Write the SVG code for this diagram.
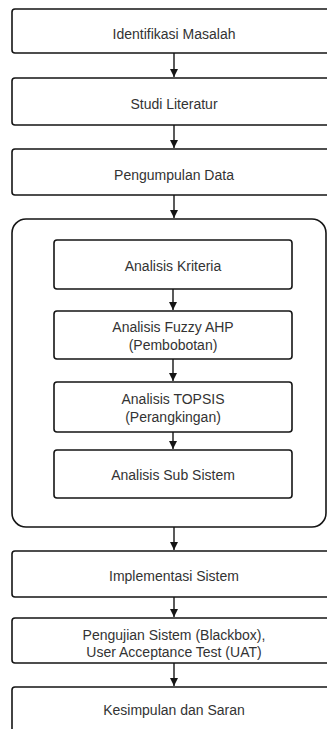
<svg xmlns="http://www.w3.org/2000/svg" width="327" height="729" viewBox="0 0 327 729">
<defs>
<style>
.box{fill:#fff;stroke:#151515;stroke-width:1.6}
.t{font-family:"Liberation Sans",Arial,sans-serif;font-size:14px;fill:#333;text-anchor:middle}
.c{stroke:#151515;stroke-width:1.4;fill:none}
</style>
<marker id="ah" viewBox="0 0 10 10" refX="10" refY="5" markerWidth="8" markerHeight="8" markerUnits="userSpaceOnUse" orient="auto"><path d="M0,0 L10,5 L0,10 z" fill="#151515"/></marker>
</defs>
<rect width="327" height="729" fill="#fff"/>
<g id="n1"><rect class="box" x="12" y="9" width="330" height="44" rx="3"/><text class="t" x="174" y="39">Identifikasi Masalah</text></g>
<g id="n2"><rect class="box" x="12" y="78" width="330" height="47" rx="3"/><text class="t" x="174" y="108.5">Studi Literatur</text></g>
<g id="n3"><rect class="box" x="12" y="149" width="330" height="46" rx="3"/><text class="t" x="174" y="180">Pengumpulan Data</text></g>
<g id="grp"><rect class="box" x="12" y="219" width="314" height="308" rx="14"/></g>
<g id="n4"><rect class="box" x="54" y="240" width="238" height="49" rx="3"/><text class="t" x="173" y="271">Analisis Kriteria</text></g>
<g id="n5"><rect class="box" x="54" y="311" width="238" height="48" rx="3"/><text class="t" x="173" y="332">Analisis Fuzzy AHP</text><text class="t" x="173" y="349.5">(Pembobotan)</text></g>
<g id="n6"><rect class="box" x="54" y="382" width="238" height="50" rx="3"/><text class="t" x="173" y="404">Analisis TOPSIS</text><text class="t" x="173" y="421.5">(Perangkingan)</text></g>
<g id="n7"><rect class="box" x="54" y="450" width="238" height="48" rx="3"/><text class="t" x="173" y="480">Analisis Sub Sistem</text></g>
<g id="n8"><rect class="box" x="12" y="551" width="330" height="46" rx="3"/><text class="t" x="174" y="581">Implementasi Sistem</text></g>
<g id="n9"><rect class="box" x="12" y="618" width="330" height="45" rx="3"/><text class="t" x="174" y="640">Pengujian Sistem (Blackbox),</text><text class="t" x="174" y="657">User Acceptance Test (UAT)</text></g>
<g id="n10"><rect class="box" x="12" y="687" width="330" height="50" rx="3"/><text class="t" x="174" y="715">Kesimpulan dan Saran</text></g>
<g id="connectors">
<line class="c" x1="174" y1="53" x2="174" y2="77" marker-end="url(#ah)"/>
<line class="c" x1="174" y1="125" x2="174" y2="148" marker-end="url(#ah)"/>
<line class="c" x1="174" y1="195" x2="174" y2="218" marker-end="url(#ah)"/>
<line class="c" x1="173" y1="289" x2="173" y2="310" marker-end="url(#ah)"/>
<line class="c" x1="173" y1="359" x2="173" y2="381" marker-end="url(#ah)"/>
<line class="c" x1="173" y1="432" x2="173" y2="449" marker-end="url(#ah)"/>
<line class="c" x1="174" y1="527" x2="174" y2="550" marker-end="url(#ah)"/>
<line class="c" x1="174" y1="597" x2="174" y2="617" marker-end="url(#ah)"/>
<line class="c" x1="174" y1="663" x2="174" y2="686" marker-end="url(#ah)"/>
</g>
</svg>
